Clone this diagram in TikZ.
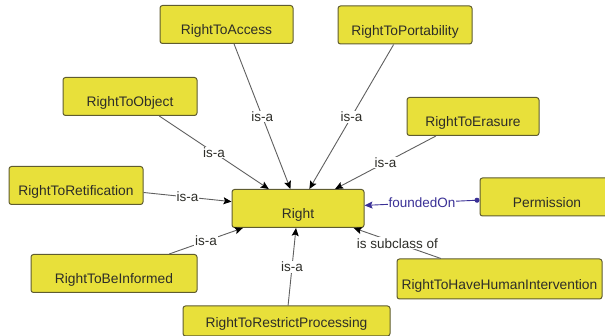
\documentclass[tikz,border=0pt]{standalone}
\usepackage{fontspec}
\setmainfont{Liberation Sans}
\usepackage{tikz}
\usepackage{xcolor}
\usetikzlibrary{arrows.meta}
\definecolor{boxfill}{RGB}{232,224,58}
\definecolor{boxline}{RGB}{95,92,48}
\definecolor{edgegray}{RGB}{95,95,95}
\definecolor{txtdark}{RGB}{45,45,40}
\definecolor{propblue}{RGB}{58,48,150}

\begin{document}
\begin{tikzpicture}
[
x=1pt, y=-1pt,
class-a/.style={rectangle, rounded corners=2.5pt, draw=boxline, fill=boxfill, line width=1pt,
                minimum width=134pt, minimum height=38pt, text height=21pt, text depth=0pt,
                text=txtdark, font=\fontsize{13.8}{16}\selectfont},
edge-a/.style={draw=edgegray, line width=0.9pt, -{Stealth[length=8pt, width=7pt, inset=1.5pt, color=black]}},
edge-b/.style={draw=propblue, line width=0.9pt, {Circle[length=5pt]}-{Stealth[length=8pt, width=7pt, inset=1.5pt]}},
label-a/.style={fill=white, inner sep=1pt, text=txtdark, font=\fontsize{13.5}{15}\selectfont},
label-b/.style={fill=white, inner sep=1pt, text=propblue, font=\fontsize{13.5}{15}\selectfont}
]
\useasboundingbox (0,0) rectangle (605,336);
\clip (0,0) rectangle (605,336);
% classes
\node (cls-right)    [class-a, minimum width=132pt]                     at (298.0,208.5) {Right};
\node (cls-access)   [class-a, minimum width=133pt]                     at (226.5, 24.5) {RightToAccess};
\node (cls-portab)   [class-a]                                          at (405.0, 25.0) {RightToPortability};
\node (cls-object)   [class-a]                                          at (130.0, 96.5) {RightToObject};
\node (cls-erasure)  [class-a, minimum width=132pt]                     at (473.0,116.5) {RightToErasure};
\node (cls-retif)    [class-a]                                          at ( 76.0,185.5) {RightToRetification};
\node (cls-inform)   [class-a, minimum width=166pt]                     at (114.0,273.5) {RightToBeInformed};
\node (cls-restrict) [class-a, minimum width=207pt, minimum height=30pt,
                      text height=14pt]                                 at (286.5,321.0) {RightToRestrictProcessing};
\node (cls-human)    [class-a, minimum width=205pt, minimum height=40pt] at (499.5,279.0) {RightToHaveHumanIntervention};
\node (cls-perm)     [class-a]                                          at (547.0,197.0) {Permission};
% subclass edges
\draw [edge-a] (cls-access)   -- node [label-a] {is-a} (cls-right);
\draw [edge-a] (cls-portab)   -- node [label-a] {is-a} (cls-right);
\draw [edge-a] (cls-object)   -- node [label-a] {is-a} (cls-right);
\draw [edge-a] (cls-erasure)  -- node [label-a] {is-a} (cls-right);
\draw [edge-a] (cls-retif)    -- node [label-a] {is-a} (cls-right);
\draw [edge-a] (cls-inform)   -- node [label-a] {is-a} (cls-right);
\draw [edge-a] (cls-restrict) -- node [label-a] {is-a} (cls-right);
\draw [edge-a] (cls-human)    -- node [label-a] {is subclass of} (cls-right);
% object property
\draw [edge-b] (cls-perm)     -- node [label-b] {foundedOn} (cls-right);
\end{tikzpicture}
\end{document}
